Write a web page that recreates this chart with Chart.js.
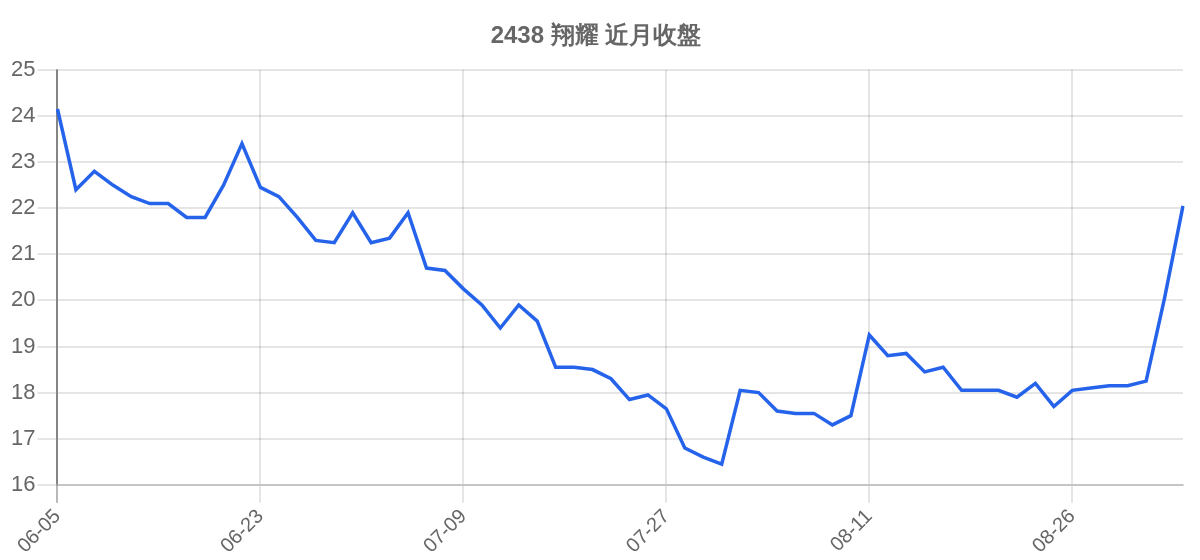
<!DOCTYPE html>
<html>
<head>
<meta charset="utf-8">
<script src="https://cdn.jsdelivr.net/npm/chart.js@4/dist/chart.umd.min.js"></script>
<style>
html,body{margin:0;padding:0;background:#fff;}
#wrap{width:1200px;height:560px;}
</style>
</head>
<body>
<div id="wrap"><canvas id="c"></canvas></div>
<script>
const chartTitle = '2438 翔耀 近月收盤';
const dates = [
  '06-05','06-06','06-09','06-10','06-11','06-12','06-13','06-16','06-17','06-18','06-19',
  '06-23','06-24','06-25','06-26','06-27','06-30','07-01','07-02','07-03','07-04','07-07',
  '07-09','07-10','07-11','07-14','07-15','07-16','07-17','07-18','07-21','07-22','07-23',
  '07-27','07-28','07-29','07-30','07-31','08-01','08-04','08-05','08-06','08-07','08-08',
  '08-11','08-12','08-13','08-14','08-15','08-18','08-19','08-20','08-21','08-22','08-25',
  '08-26','08-27','08-28','08-29','09-01','09-02','09-03'
];
const closes = [
  24.15,22.4,22.8,22.5,22.25,22.1,22.1,21.8,21.8,22.5,23.4,
  22.45,22.25,21.8,21.3,21.25,21.9,21.25,21.35,21.9,20.7,20.65,
  20.25,19.9,19.4,19.9,19.55,18.55,18.55,18.5,18.3,17.85,17.95,
  17.65,16.8,16.6,16.45,18.05,18.0,17.6,17.55,17.55,17.3,17.5,
  19.25,18.8,18.85,18.45,18.55,18.05,18.05,18.05,17.9,18.2,17.7,
  18.05,18.1,18.15,18.15,18.25,20.05,22.05
];
const yMin = 16, yMax = 25;

new Chart(document.getElementById('c'), {
  type: 'line',
  data: {
    labels: dates,
    datasets: [{
      label: chartTitle,
      data: closes,
      borderColor: '#2563eb',
      backgroundColor: '#2563eb',
      borderWidth: 3.5,
      pointRadius: 0,
      tension: 0,
      fill: false
    }]
  },
  options: {
    responsive: true,
    maintainAspectRatio: false,
    animation: false,
    layout: { padding: { left: 9, right: 17, top: 0, bottom: 0 } },
    plugins: {
      legend: { display: false },
      tooltip: { enabled: false },
      title: {
        display: true,
        text: chartTitle,
        color: '#666',
        font: { size: 24, weight: 'bold' },
        padding: { top: 22, bottom: 19 }
      }
    },
    scales: {
      x: {
        ticks: {
          color: '#666',
          font: { size: 20 },
          maxRotation: 45,
          minRotation: 45,
          autoSkip: true,
          maxTicksLimit: 6,
          padding: 2
        },
        grid: {
          color: (ctx) => ctx.index === 0 ? 'rgba(0,0,0,0.28)' : 'rgba(0,0,0,0.1)',
          lineWidth: 2,
          tickLength: 18
        },
        border: { color: 'rgba(0,0,0,0.14)', width: 2 }
      },
      y: {
        min: yMin,
        max: yMax,
        ticks: { color: '#666', font: { size: 22 }, stepSize: 1, padding: 2 },
        grid: { color: 'rgba(0,0,0,0.1)', lineWidth: 2, tickLength: 20 },
        border: { color: 'rgba(0,0,0,0.28)', width: 2 }
      }
    }
  }
});
</script>
</body>
</html>
